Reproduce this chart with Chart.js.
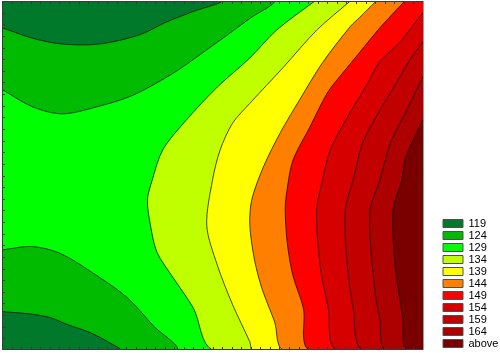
<!DOCTYPE html>
<html>
<head>
<meta charset="utf-8">
<script src="https://cdn.jsdelivr.net/npm/chart.js@4/dist/chart.umd.min.js"></script>
<style>
  html, body { margin: 0; padding: 0; background: #fff; }
</style>
</head>
<body>
<canvas id="chart-contour" width="500" height="353"></canvas>
<script>
(function () {
  const X_MIN = 0, X_MAX = 44;
  const Y_MIN = 0, Y_MAX = 30;

  const levels = ['119', '124', '129', '134', '139', '144', '149', '154', '159', '164', 'above'];
  const bandColors = ['#00792b', '#00bb00', '#00ff00', '#c0ff00', '#ffff00', '#ff8000',
    '#ff0000', '#d70000', '#c20000', '#ad0000', '#7a0000'];

  // isolines, [x, y] in axis units (no labels on the original axes)
  const iso119Top = [[0, 27.7], [3.2, 26.8], [6.3, 26.3], [10.2, 26.3], [14.4, 27.1], [17.2, 28.2], [20.0, 29.1], [22.8, 30]];
  const iso124Top = [[0, 22.4], [3.2, 20.9], [6.3, 20.3], [9.9, 20.9], [13.7, 21.9], [17.9, 23.8], [21.4, 25.8], [25.9, 28.5], [28.3, 30]];
  const iso124Bottom = [[0, 8.6], [3.1, 8.9], [6.1, 8.3], [9.9, 6.4], [13.1, 4.5], [15.8, 2.1], [18.2, 0]];
  const iso119Bottom = [[0, 3.3], [2.9, 3.1], [5.0, 2.8], [6.8, 2.2], [9.2, 1.5], [11.3, 0.6], [12.3, 0]];
  const iso129 = [[32.7, 30], [28.7, 27.5], [25.9, 25.1], [22.5, 22.6], [19.3, 19.8], [16.8, 17.2], [15.7, 14.6],
    [15.2, 12.9], [15.5, 10.8], [16.2, 8.4], [17.9, 6.2], [20.0, 3.6], [22.1, 0]];
  const iso134 = [[36.4, 30], [32.9, 27.5], [29.4, 24.3], [25.9, 21.2], [24.1, 19.5], [22.8, 17.2], [22.0, 14.6],
    [21.4, 10.7], [22.5, 7.3], [24.1, 3.9], [25.9, 0.7], [26.2, 0]];
  const iso139 = [[39.1, 30], [37.4, 28.6], [36.4, 27.8], [33.5, 24.7], [31.1, 21.5], [29.1, 18.7], [27.3, 15.7],
    [26.1, 12.9], [25.9, 10.7], [26.4, 7.7], [27.2, 5.2], [28.5, 2.4], [29.4, 0]];
  const iso144 = [[42.1, 30], [39.5, 27.7], [37.4, 25.6], [35.3, 23.5], [34.0, 22.1], [32.2, 19.2], [30.4, 16.3],
    [29.8, 13.8], [29.6, 12.2], [29.8, 9.3], [30.4, 6.4], [31.5, 3.6], [32.1, 0]];
  const iso149 = [[44, 29.0], [41.6, 26.5], [39.5, 24.8], [38.2, 22.9], [36.1, 20.0], [34.3, 17.2], [33.5, 14.6],
    [32.9, 12.2], [33.0, 9.3], [33.4, 6.4], [34.1, 3.6], [34.9, 0]];
  const iso154 = [[44, 26.5], [42.6, 24.9], [41.6, 23.5], [39.5, 20.6], [37.7, 17.8], [36.7, 14.6], [35.9, 12.2],
    [35.9, 9.3], [36.2, 6.4], [36.7, 3.6], [37.6, 0]];
  const iso159 = [[44, 23.5], [42.3, 20.6], [40.6, 17.8], [39.5, 14.6], [38.5, 12.2], [38.5, 9.3], [38.8, 6.4],
    [39.1, 4.3], [39.5, 2.6], [40.0, 0]];
  const iso164 = [[44, 19.8], [43.0, 18.1], [42.1, 16.3], [41.8, 14.6], [40.9, 12.2], [40.9, 9.3], [41.2, 6.4],
    [41.6, 4.3], [41.9, 2.6], [42.2, 0]];

  // each region is closed through corners lying just outside the plot, so only the isoline shows
  const OUT = 2;
  const topLeft = [[X_MIN - OUT, Y_MAX + OUT]];
  const bottomLeft = [[X_MIN - OUT, Y_MIN - OUT]];
  const rightSide = [[X_MAX + OUT, Y_MIN - OUT], [X_MAX + OUT, Y_MAX + OUT]];

  // painted in this order; band is an index into bandColors
  const regions = [
    { line: iso124Top, close: topLeft, band: 1 },
    { line: iso119Top, close: topLeft, band: 0 },
    { line: iso124Bottom, close: bottomLeft, band: 1 },
    { line: iso119Bottom, close: bottomLeft, band: 0 },
    { line: iso129, close: rightSide, band: 3 },
    { line: iso134, close: rightSide, band: 4 },
    { line: iso139, close: rightSide, band: 5 },
    { line: iso144, close: rightSide, band: 6 },
    { line: iso149, close: rightSide, band: 7 },
    { line: iso154, close: rightSide, band: 8 },
    { line: iso159, close: rightSide, band: 9 },
    { line: iso164, close: rightSide, band: 10 },
  ];

  function toPoints(line) {
    return line.map(([x, y]) => ({ x, y }));
  }

  const datasets = regions.map((r, i) => ({
    data: toPoints(r.line.concat(r.close)),
    showLine: true,
    fill: 'shape',
    backgroundColor: bandColors[r.band],
    borderColor: 'rgba(0, 0, 0, 0.7)',
    borderWidth: 1,
    pointRadius: 0,
    tension: 0.3,
    clip: 0,
    order: regions.length - i,
  }));

  const plotBackground = {
    id: 'plotBackground',
    beforeDatasetsDraw(chart) {
      const { ctx, chartArea: a } = chart;
      ctx.save();
      ctx.fillStyle = bandColors[2];
      ctx.fillRect(a.left, a.top, a.right - a.left, a.bottom - a.top);
      ctx.restore();
    },
  };

  const plotFrame = {
    id: 'plotFrame',
    afterDatasetsDraw(chart) {
      const { ctx, chartArea: a, scales: { x, y } } = chart;
      ctx.save();
      ctx.lineWidth = 1;
      ctx.strokeStyle = '#9c9c9c';
      ctx.beginPath();
      ctx.moveTo(Math.round(a.right) + 0.5, a.top);
      ctx.lineTo(Math.round(a.right) + 0.5, a.bottom);
      ctx.stroke();

      ctx.strokeStyle = '#3a3a3a';
      ctx.beginPath();
      ctx.moveTo(Math.round(a.right), Math.round(a.top) + 0.5);
      ctx.lineTo(Math.round(a.left) + 0.5, Math.round(a.top) + 0.5);
      ctx.lineTo(Math.round(a.left) + 0.5, Math.round(a.bottom) - 0.5);
      ctx.lineTo(Math.round(a.right), Math.round(a.bottom) - 0.5);
      for (let v = X_MIN + 1; v < X_MAX; v++) {
        const px = Math.round(x.getPixelForValue(v)) + 0.5;
        ctx.moveTo(px, a.top);
        ctx.lineTo(px, a.top + 3);
        ctx.moveTo(px, a.bottom);
        ctx.lineTo(px, a.bottom - 3);
      }
      for (let v = Y_MIN + 1; v < Y_MAX; v++) {
        const py = Math.round(y.getPixelForValue(v)) + 0.5;
        ctx.moveTo(a.left, py);
        ctx.lineTo(a.left + 3, py);
      }
      ctx.stroke();
      ctx.restore();
    },
  };

  new Chart(document.getElementById('chart-contour'), {
    type: 'line',
    data: { datasets },
    options: {
      responsive: false,
      animation: false,
      events: [],
      layout: { padding: { left: 2, top: 1, right: 0, bottom: 3 } },
      scales: {
        x: { type: 'linear', min: X_MIN, max: X_MAX, display: false },
        y: { type: 'linear', min: Y_MIN, max: Y_MAX, display: false },
        gap: {
          type: 'linear',
          position: 'right',
          grid: { display: false },
          border: { display: false },
          ticks: { display: false },
          afterFit(scale) { scale.width = 19; },
        },
      },
      plugins: {
        tooltip: { enabled: false },
        legend: {
          position: 'right',
          align: 'end',
          maxWidth: 58,
          labels: {
            boxWidth: 20,
            boxHeight: 8,
            padding: 1,
            color: '#111111',
            font: { family: '"Liberation Sans", Arial, sans-serif', size: 11 },
            generateLabels: () => levels.map((text, i) => ({
              text,
              fillStyle: bandColors[i],
              strokeStyle: '#505050',
              lineWidth: 1,
              hidden: false,
            })),
          },
        },
      },
    },
    plugins: [plotBackground, plotFrame],
  });
})();
</script>
</body>
</html>
